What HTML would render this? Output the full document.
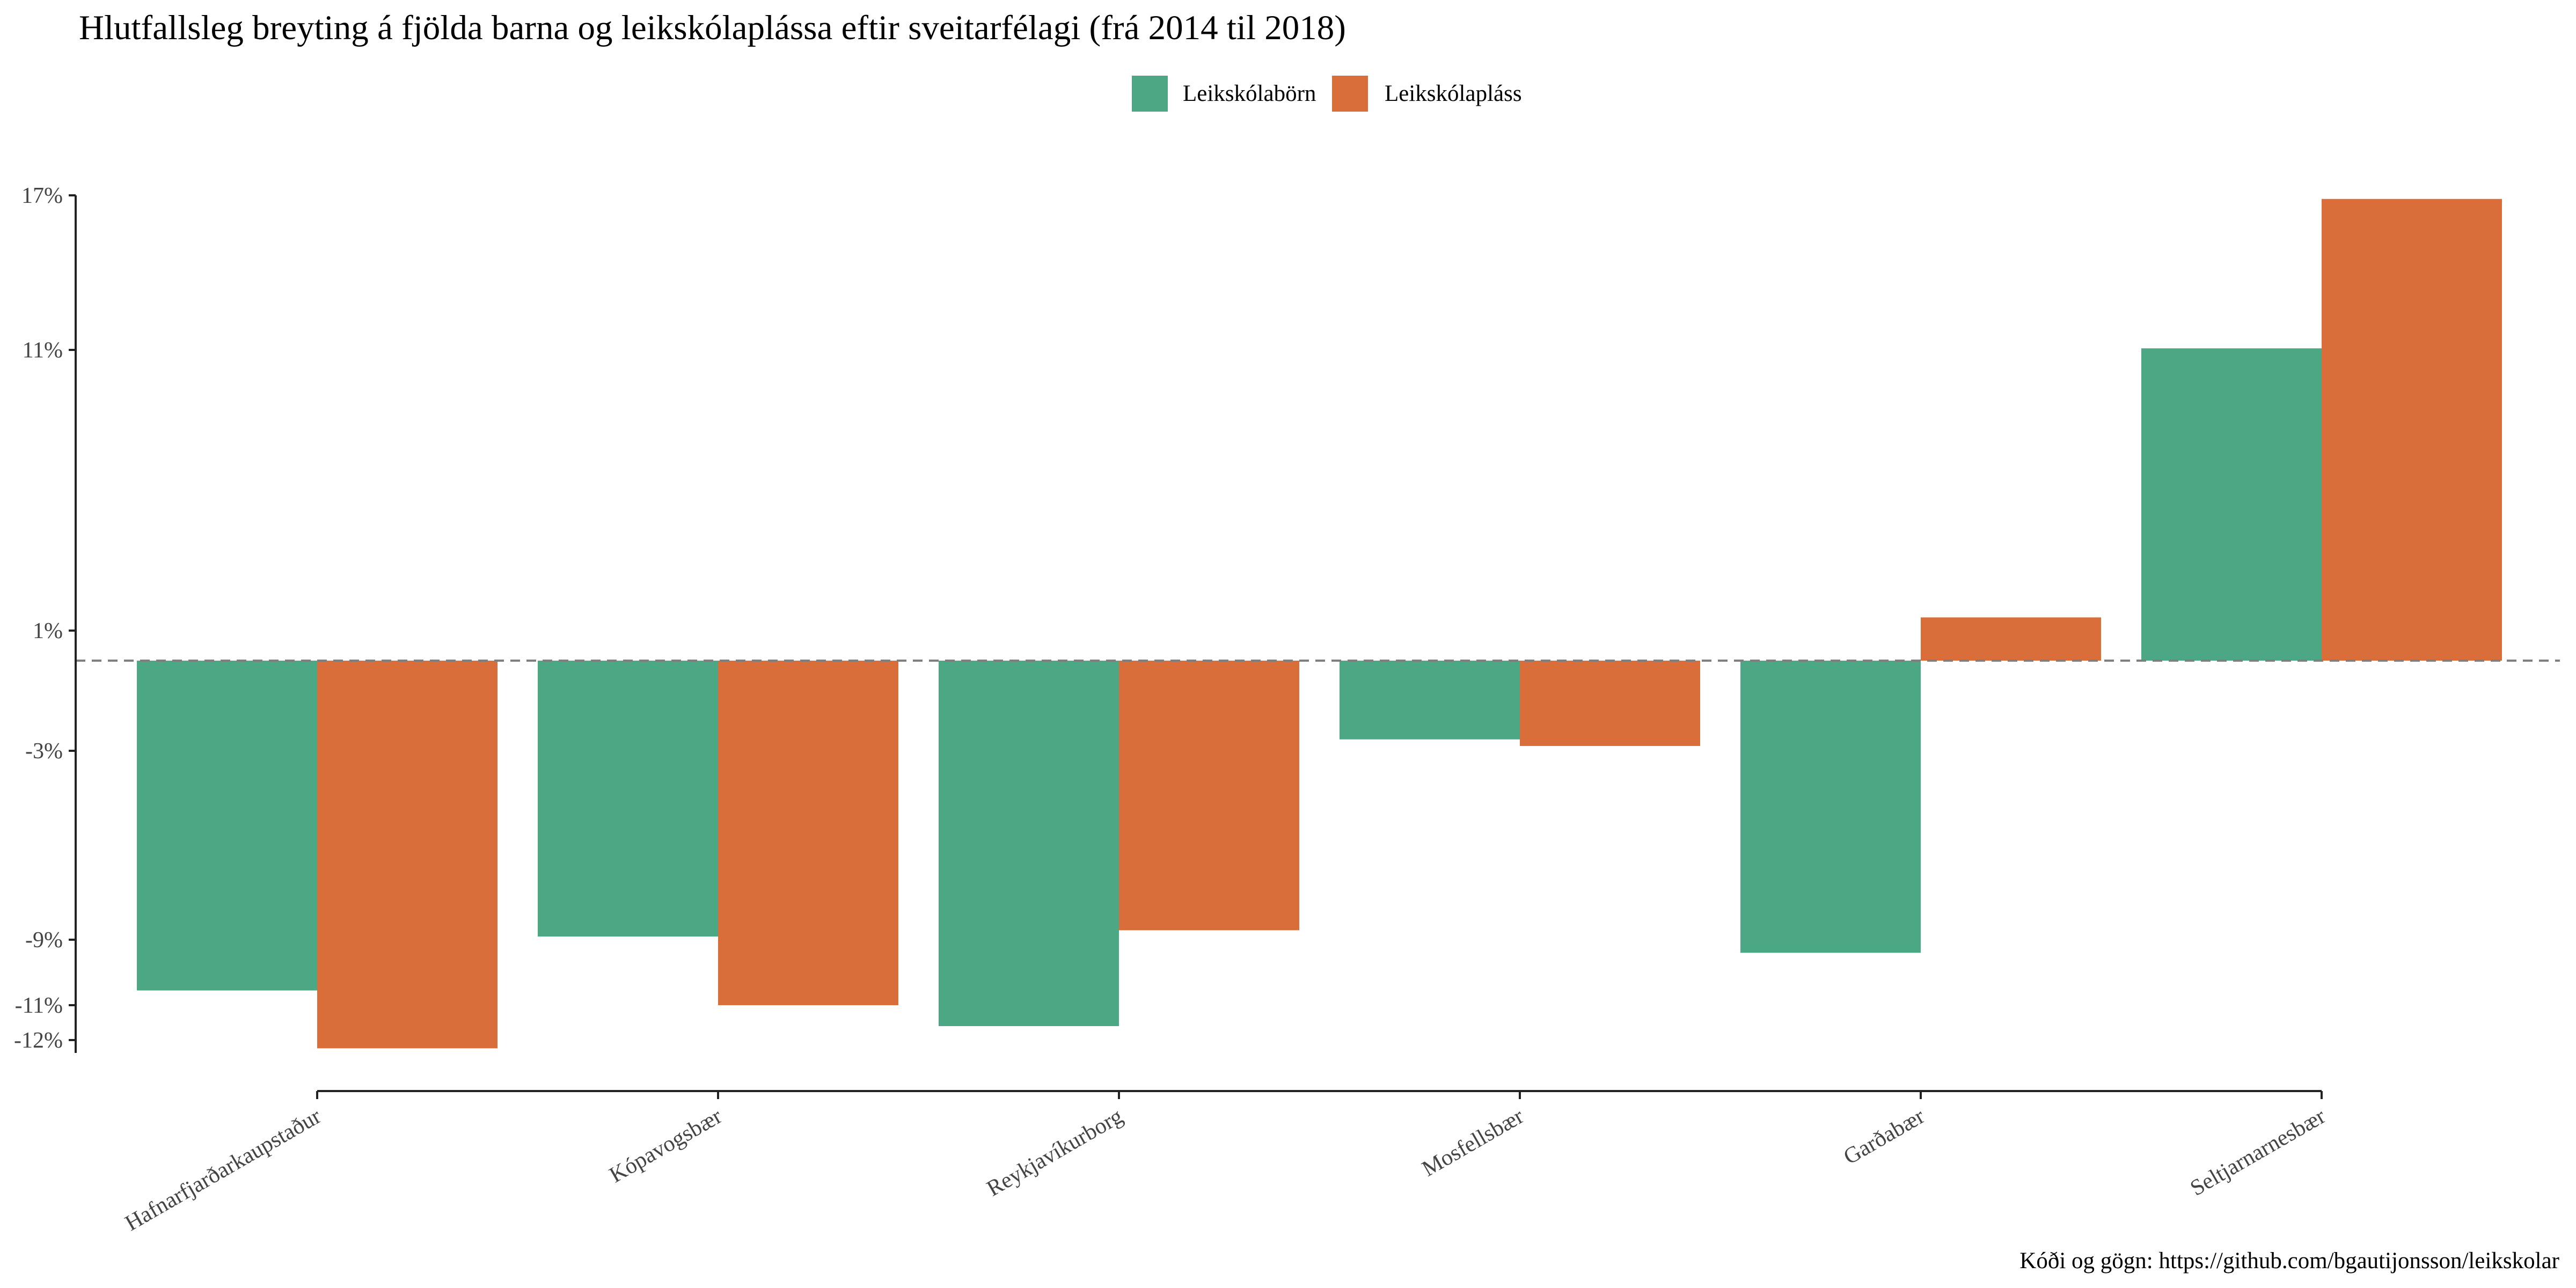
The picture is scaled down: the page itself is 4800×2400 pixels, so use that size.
<!DOCTYPE html>
<html><head><meta charset="utf-8"><style>
html,body{margin:0;padding:0;background:#fff;}
svg{display:block;font-family:"Liberation Serif",serif;}
</style></head><body>
<svg id="chart" xmlns="http://www.w3.org/2000/svg" width="4800" height="2400" viewBox="0 0 4800 2400">
<rect width="4800" height="2400" fill="#fff"/>
<text x="147" y="73" font-size="65" fill="#000">Hlutfallsleg breyting á fjölda barna og leikskólaplássa eftir sveitarfélagi (frá 2014 til 2018)</text>
<g>
<g>
<rect x="2109" y="141" width="67" height="67" fill="#4BA784"/>
<text x="2204" y="188" font-size="43">Leikskólabörn</text></g>
<g>
<rect x="2482" y="141" width="67" height="67" fill="#D96E3A"/>
<text x="2580" y="188" font-size="43">Leikskólapláss</text></g>
</g>
<g id="plot"></g>
<text x="4769" y="2363" font-size="43" text-anchor="end" fill="#000">Kóði og gögn: https://github.com/bgautijonsson/leikskolar</text>
</svg>
<script>
const categories = ["Hafnarfjarðarkaupstaður","Kópavogsbær","Reykjavíkurborg","Mosfellsbær","Garðabær","Seltjarnarnesbær"];
const childrenValues = [-10.55, -8.9, -11.6, -2.62, -9.4, 11.06];
const placesValues = [-12.24, -11.0, -8.7, -2.84, 1.47, 16.86];
const tickValues = [17, 11, 1, -3, -9, -11, -12];
const tickLabels = ["17%","11%","1%","-3%","-9%","-11%","-12%"];

const NS = "http://www.w3.org/2000/svg";
const plot = document.getElementById("plot");
const scaleDomain = [-13, -12, -11, -9, -3, 0, 1, 11, 17];
const scaleRange = [2002, 1938, 1873, 1751, 1399, 1231, 1175, 652, 364];
function y(v){
  for(let i=0;i<scaleDomain.length-1;i++){
    const a=scaleDomain[i], b=scaleDomain[i+1];
    if(v<=b || i===scaleDomain.length-2){
      const t=(v-a)/(b-a);
      return scaleRange[i]+t*(scaleRange[i+1]-scaleRange[i]);
    }
  }
}
const x0 = 591, step = 747, barW = 336;
function x(i){ return x0 + i*step; }
function mk(tag, attrs){ const e=document.createElementNS(NS,tag); for(const k in attrs) e.setAttribute(k, attrs[k]); plot.appendChild(e); return e; }

categories.forEach((c,i)=>{
  const g0 = y(0);
  const v1 = childrenValues[i], v2 = placesValues[i];
  const r1 = mk("rect",{x:x(i)-barW, y:Math.min(y(v1),g0), width:barW, height:Math.abs(y(v1)-g0), fill:"#4BA784"});
  
  
  const r2 = mk("rect",{x:x(i), y:Math.min(y(v2),g0), width:barW, height:Math.abs(y(v2)-g0), fill:"#D96E3A"});
  
  
});

const zl = mk("line",{x1:141, x2:4770, y1:y(0), y2:y(0), stroke:"#7f7f7f", "stroke-width":4, "stroke-dasharray":"18 12"});



const ya = mk("line",{x1:141, x2:141, y1:y(17), y2:1962, stroke:"#222", "stroke-width":4});


tickValues.forEach((v,i)=>{
  const tm = mk("line",{x1:128, x2:141, y1:y(v), y2:y(v), stroke:"#222", "stroke-width":4});
  
  
  const t = mk("text",{x:117, y:y(v)+14, "font-size":42, "text-anchor":"end", fill:"#444"});
  t.textContent = tickLabels[i];
  
  
});

const xa = mk("line",{x1:x(0), x2:x(categories.length-1), y1:2033, y2:2033, stroke:"#222", "stroke-width":4});


categories.forEach((c,i)=>{
  const tm = mk("line",{x1:x(i), x2:x(i), y1:2033, y2:2048, stroke:"#222", "stroke-width":4});
  
  
  const t = mk("text",{x:0, y:0, "font-size":42, "text-anchor":"end", fill:"#444", transform:`translate(${x(i)+10},${2088}) rotate(-30)`});
  t.textContent = c;
  
  
});
</script>
</body></html>
